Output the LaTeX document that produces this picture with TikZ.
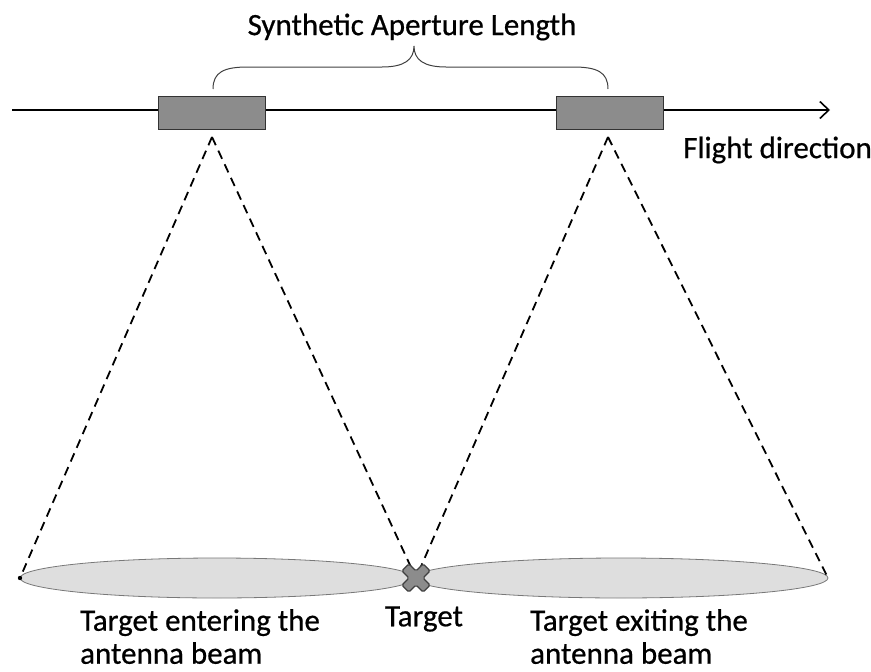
\documentclass[tikz,border=0pt]{standalone}
\usepackage{fontspec}
\setmainfont{Carlito}[BoldFont=Carlito, BoldFeatures={FakeBold=0.6}]
\usetikzlibrary{positioning,arrows.meta}
\definecolor{antgray}{RGB}{140,140,140}
\definecolor{beamgray}{RGB}{222,222,222}
\definecolor{edgegray}{RGB}{120,120,120}

\begin{document}
\begin{tikzpicture}[
    x=1pt, y=-1pt,
    antenna/.style={draw=black!80, fill=antgray, line width=1.2pt, minimum width=107pt, minimum height=33pt, inner sep=0pt},
    beam/.style={draw=edgegray, fill=beamgray, line width=0.8pt},
    rays/.style={dashed, line width=1.8pt, dash pattern=on 9pt off 6pt},
    lbl/.style={font=\fontsize{31}{33}\selectfont\bfseries, align=left, inner sep=0pt},
  ]
  \useasboundingbox (0,0) rectangle (871,672);

  % flight path and antenna positions
  \coordinate (start) at (12,110);
  \coordinate (finish) at (830,110);
  \draw[-{Straight Barb[length=9pt,width=17pt,line width=1.6pt]}, line width=1.6pt] (start) -- (finish);
  \node[antenna] (ant1) at (212,113) {};
  \node[antenna] (ant2) at (610,113) {};
  \node[lbl, anchor=west] (fdir) at (683,150) {Flight direction};

  % synthetic aperture
  \draw[line width=1pt, black!75]
    (213,89) .. controls (213,72) and (224,67) .. (248,67) -- (382,67)
    .. controls (404,67) and (414,60) .. (414,46)
    .. controls (414,60) and (424,67) .. (446,67) -- (573,67)
    .. controls (597,67) and (608,72) .. (608,89);
  \node[lbl] (sal) at (412,27) {Synthetic Aperture Length};

  % footprints on the ground
  \node[coordinate] (target) at (416,578) {};
  \draw[beam] (217,578) ellipse (197 and 20);
  \draw[beam] (621,578) ellipse (207 and 20);
  \node[coordinate] (edgeL) at (20,578) {};
  \node[coordinate] (edgeR) at (828,578) {};

  % antenna beams
  \coordinate (apex1) at (212,137);
  \coordinate (apex2) at (608,137);
  \draw[rays] (apex1) -- (edgeL);
  \draw[rays] (apex1) -- (target);
  \draw[rays] (apex2) -- (target);
  \draw[rays] (apex2) -- (edgeR);
  \fill (edgeL) circle (2.2pt);

  % target marker
  \begin{scope}[shift={(target)}, rotate=45]
    \draw[fill=antgray, draw=black!75, line width=1.2pt, rounded corners=1.5pt]
      (-5,-15) -- (5,-15) -- (5,-5) -- (15,-5) -- (15,5) -- (5,5) -- (5,15)
      -- (-5,15) -- (-5,5) -- (-15,5) -- (-15,-5) -- (-5,-5) -- cycle;
  \end{scope}

  \node[lbl, anchor=north west] (enter) at (80,609) {Target entering the\\antenna beam};
  \node[lbl] (tlbl) at (424,619) {Target};
  \node[lbl, anchor=north west] (exit) at (530,609) {Target exiting the\\antenna beam};
\end{tikzpicture}
\end{document}
